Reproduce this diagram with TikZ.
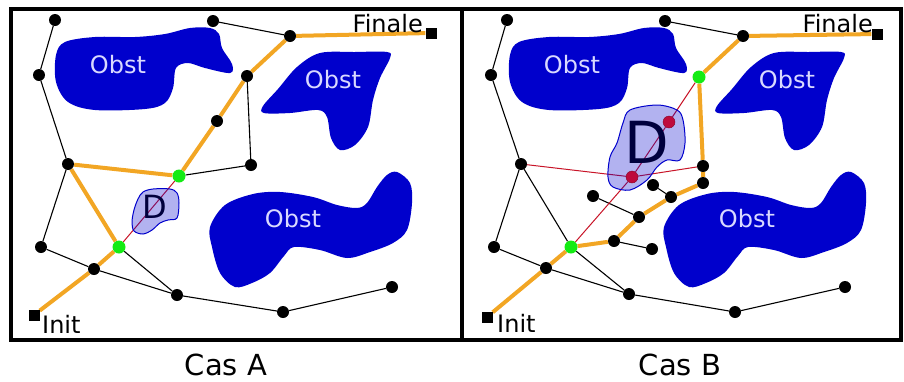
\documentclass[tikz,border=0pt]{standalone}
\usepackage{fontspec}
\setmainfont{DejaVu Sans}
\definecolor{obstblue}{RGB}{0,0,204}
\definecolor{pathorange}{RGB}{242,166,36}
\definecolor{okgreen}{RGB}{20,235,20}
\definecolor{badred}{RGB}{190,10,60}
\definecolor{linkred}{RGB}{200,20,40}
\pgfdeclarelayer{front}\pgfsetlayers{main,front}
\tikzset{v/.style={circle,fill=black,minimum size=12pt,inner sep=0pt},
 gv/.style={circle,fill=okgreen,minimum size=13pt,inner sep=0pt},
 rv/.style={circle,fill=badred,draw=badred!70!black,minimum size=12pt,inner sep=0pt},
 sq/.style={fill=black,minimum size=11pt,inner sep=0pt},
 wire/.style={line width=1.1pt},
 best/.style={draw=pathorange,line width=4pt},
 bad/.style={draw=linkred,line width=1pt},
 obst/.style={fill=obstblue},
 zone/.style={draw=blue!80!black,fill=blue!80!black,fill opacity=.3,line width=1pt},
 txt/.style={font=\fontsize{24}{24}\selectfont,inner sep=0pt},
 otxt/.style={txt,text=blue!15!white},
 castxt/.style={font=\fontsize{29}{29}\selectfont,inner sep=0pt}}

\begin{document}
\begin{tikzpicture}[x=1pt,y=-1pt]
\useasboundingbox (0,0) rectangle (904,381);
\draw[line width=4pt](11,9) rectangle (462,340);
\draw[line width=4pt](462,9) rectangle (901,340);
% obstacles, same in both cases
\foreach \dx in {0,454}{
\begin{scope}[xshift=\dx pt]
\fill[obst] plot[smooth cycle,tension=.55] coordinates {(56,55)(65,42)(95,37)(135,37)(165,34)(190,28)(210,28)(219,34)(222,48)(232,64)(230,73)(205,68)(188,63)(176,68)(173,88)(165,103)(145,109)(95,110)(68,102)(56,82)};
\fill[obst] plot[smooth cycle,tension=.55] coordinates {(297,67)(320,53)(355,52)(387,52)(390,58)(380,78)(373,100)(368,127)(355,145)(340,150)(331,138)(327,117)(318,110)(290,113)(264,113)(263,106)(278,89)};
\fill[obst] plot[smooth cycle,tension=.55] coordinates {(210,227)(212,247)(220,273)(235,287)(252,283)(270,273)(284,256)(294,247)(320,250)(347,258)(370,252)(393,243)(407,230)(412,203)(410,183)(397,172)(387,175)(377,187)(367,203)(357,208)(337,205)(313,197)(280,192)(253,194)(225,205)};
\node[otxt] at (118,65){Obst};
\node[otxt] at (333,80){Obst};
\node[otxt] at (293,219){Obst};
\end{scope}}
% nodes
\begin{pgfonlayer}{front}
\node[v](a1) at(55,20){};  \node[v](a2) at(39,75){};   \node[v](a3) at(68,164){};
\node[v](a4) at(41,247){}; \node[v](a5) at(94,269){};  \node[gv](ag1) at(119,247){};
\node[gv](ag2) at(179,176){}; \node[v](a6) at(217,121){}; \node[v](a7) at(247,76){};
\node[v](a8) at(290,36){}; \node[v](a9) at(213,21){};  \node[v](a10) at(251,165){};
\node[v](a11) at(177,295){}; \node[v](a12) at(283,312){}; \node[v](a13) at(392,287){};
\node[sq](ai) at(34,315){}; \node[sq](af) at(431,33){};
\node[v](b1) at(507,20){};  \node[v](b2) at(491,75){};   \node[v](b3) at(521,164){};
\node[v](b4) at(494,247){}; \node[v](b5) at(546,268){};  \node[gv](bg1) at(571,247){};
\node[rv](br2) at(632,177){}; \node[rv](br6) at(669,122){}; \node[gv](bg7) at(699,77){};
\node[v](b8) at(743,36){};  \node[v](b9) at(665,21){};   \node[v](b10) at(703,166){};
\node[v](b11) at(629,294){}; \node[v](b12) at(735,312){}; \node[v](b13) at(845,287){};
\node[v](c1) at(614,241){}; \node[v](c2) at(652,249){};  \node[v](c3) at(639,217){};
\node[v](c4) at(593,196){}; \node[v](c5) at(671,197){};  \node[v](c6) at(653,185){};
\node[v](c7) at(703,183){};
\node[sq](bi) at(487,317){}; \node[sq](bf) at(877,34){};
\end{pgfonlayer}
% Cas A
\draw[wire](a1)--(a2)--(a3)--(a4)--(a5)--(a11)--(a12)--(a13);
\draw[wire](ag1)--(a11);
\draw[wire](a9)--(a8);
\draw[wire](a7)--(a10)--(ag2);
\draw[best](ai)--(a5)--(ag1)--(a3)--(ag2)--(a6)--(a7)--(a8)--(af);
\draw[bad](ag1)--(ag2);
\node[font=\fontsize{32}{32}\selectfont](da) at(155,207){D};
\fill[zone] plot[smooth cycle,tension=.55] coordinates {(143,192)(153,189)(170,189)(177,193)(179,203)(177,218)(168,220)(160,223)(152,230)(143,234)(134,231)(132,222)(134,210)(138,199)};
\node[txt,anchor=base west](ainit) at(42,333){Init};
\node[txt,anchor=base east](afin) at(423,32){Finale};
% Cas B
\draw[wire](b1)--(b2)--(b3)--(b4)--(b5)--(b11)--(b12)--(b13);
\draw[wire](b3)--(bg1)--(b11);
\draw[wire](b9)--(b8);
\draw[wire](c1)--(c2);
\draw[wire](c3)--(c4);
\draw[wire](c5)--(c6);
\draw[best](bi)--(b5)--(bg1)--(c1)--(c3)--(c5)--(c7)--(b10)--(bg7)--(b8)--(bf);
\draw[bad](b3)--(br2)--(b10);
\draw[bad](bg1)--(br2)--(br6)--(bg7);
\node[font=\fontsize{58}{58}\selectfont](db) at(647,142){D};
\fill[zone] plot[smooth cycle,tension=.55] coordinates {(630,110)(657,105)(677,110)(683,120)(685,143)(680,160)(667,160)(657,167)(647,180)(630,190)(613,187)(608,177)(610,157)(617,143)(623,123)};
\node[txt,anchor=base west](binit) at(497,332){Init};
\node[txt,anchor=base east](bfin) at(873,32){Finale};
% captions
\node[castxt](casa) at(226,365){Cas A};
\node[castxt](casb) at(680,365){Cas B};
\end{tikzpicture}
\end{document}
